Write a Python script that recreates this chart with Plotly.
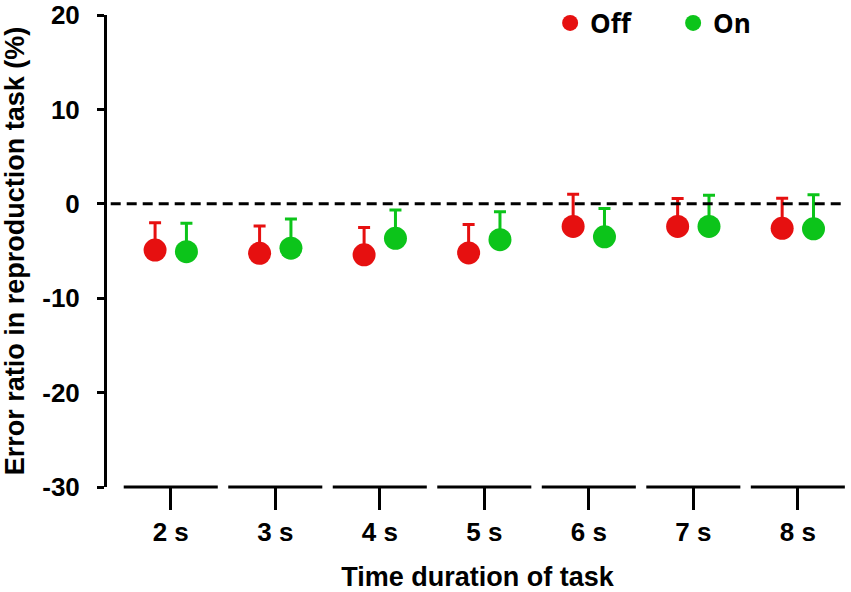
import plotly.graph_objects as go

durations = ["2 s", "3 s", "4 s", "5 s", "6 s", "7 s", "8 s"]
off_mean = [-4.9, -5.25, -5.4, -5.2, -2.4, -2.4, -2.6]
off_err = [2.9, 2.9, 2.9, 3.0, 3.4, 2.95, 3.2]
on_mean = [-5.07, -4.7, -3.65, -3.8, -3.5, -2.4, -2.65]
on_err = [3.0, 3.1, 3.0, 2.95, 3.0, 3.3, 3.6]
y_ticks = [-30, -20, -10, 0, 10, 20]

red = "#e61010"
green = "#0cc41a"
font_family = "Liberation Sans, Arial, sans-serif"

pos = list(range(len(durations)))
shift = 0.15

fig = go.Figure()
for name, mean, err, color, sign in [("Off", off_mean, off_err, red, -1),
                                     ("On", on_mean, on_err, green, 1)]:
    fig.add_trace(go.Scatter(
        x=[p + sign * shift for p in pos], y=mean, mode="markers", name=name,
        marker=dict(color=color, size=23, line=dict(width=0)),
        error_y=dict(type="data", symmetric=False, array=err,
                     arrayminus=[0] * len(err), color=color,
                     thickness=3, width=6),
    ))

# segmented x axis line, one piece per category (Prism style)
for p in pos:
    fig.add_shape(type="line", x0=p - 0.45, x1=p + 0.45, y0=0, y1=0,
                  xref="x", yref="paper", line=dict(color="black", width=3))

# dashed zero line
fig.add_shape(type="line", x0=0.005, x1=0.995, y0=0, y1=0, xref="paper", yref="y",
              line=dict(color="black", width=3, dash="10px,6px"))

fig.update_layout(
    width=851, height=592,
    margin=dict(l=107, r=3, t=15, b=105, autoexpand=False),
    plot_bgcolor="white", paper_bgcolor="white",
    font=dict(family=font_family, size=26, color="black", weight="bold"),
    legend=dict(orientation="h", x=0.598, y=0.983, xanchor="left", yanchor="middle",
                font=dict(family="Open Sans, sans-serif", size=26, weight="bold"),
                itemsizing="trace", entrywidth=78, entrywidthmode="pixels",
                bgcolor="rgba(0,0,0,0)"),
)
fig.update_xaxes(
    range=[-0.61, 6.48], tickmode="array", tickvals=pos, ticktext=durations,
    showline=False, showgrid=False, zeroline=False,
    ticks="outside", ticklen=22, tickwidth=3, tickcolor="black",
    title=dict(text="Time duration of task", standoff=24,
               font=dict(size=27, weight="bold")),
)
fig.update_yaxes(
    range=[-30, 20], tickmode="array", tickvals=y_ticks,
    ticktext=[str(v) for v in y_ticks],
    showline=True, linecolor="black", linewidth=3, showgrid=False, zeroline=False,
    ticks="outside", ticklen=7, tickwidth=3, tickcolor="black",
    ticklabelstandoff=12,
    title=dict(text="Error ratio in reproduction task (%)", standoff=16,
               font=dict(size=27, weight="bold")),
)

# drop the browser's default body margin so the 851x592 figure fills the window
fig.write_html("out.html", config={"displayModeBar": False},
               post_script="document.body.style.margin = '0';")
